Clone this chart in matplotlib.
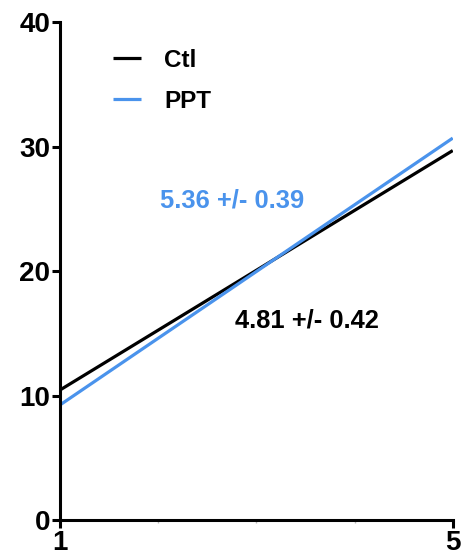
import matplotlib.pyplot as plt
import numpy as np
from matplotlib.ticker import FixedLocator

# fitted lines: intercept at x=1 and slope
x_range = [1, 5]
groups = ['Ctl', 'PPT']
start_vals = [10.45, 9.25]
slopes = [4.81, 5.36]
slope_errs = [0.42, 0.39]
colors = ['black', '#4a93ec']

plt.rcParams['font.family'] = ['Liberation Sans', 'DejaVu Sans']
plt.rcParams['font.weight'] = 'bold'

fig = plt.figure(figsize=(4.62, 5.56), dpi=100)
ax = fig.add_axes([0.13, 0.0647, 0.85, 0.8953])

xs = np.array(x_range, dtype=float)
for name, y0, k, c in zip(groups, start_vals, slopes, colors):
    ys = y0 + k * (xs - x_range[0])
    ax.plot(xs, ys, color=c, lw=2.3, label=name, solid_capstyle='butt')

# slope +/- error labels
ax.text(2.02, 25.7, '%.2f +/- %.2f' % (slopes[1], slope_errs[1]), color=colors[1],
        fontsize=18.4, fontweight='bold', ha='left', va='center')
ax.text(2.78, 16.05, '%.2f +/- %.2f' % (slopes[0], slope_errs[0]), color=colors[0],
        fontsize=18.4, fontweight='bold', ha='left', va='center')

ax.set_xlim(1, 5)
ax.set_ylim(0, 40)
ax.set_xticks([1, 5])
ax.xaxis.set_minor_locator(FixedLocator([2, 3, 4]))
ax.set_yticks([0, 10, 20, 30, 40])

for side in ['top', 'right']:
    ax.spines[side].set_visible(False)
for side in ['left', 'bottom']:
    ax.spines[side].set_linewidth(2.2)

ax.tick_params(axis='both', which='major', length=6, width=2.2, labelsize=20, pad=1)
ax.tick_params(axis='x', which='minor', length=2, width=1, color='#bbbbbb')
for lbl in ax.get_xticklabels() + ax.get_yticklabels():
    lbl.set_fontweight('bold')

leg = ax.legend(loc='upper left', bbox_to_anchor=(0.135, 0.947), frameon=False,
                fontsize=17.5, handlelength=1.15, handletextpad=0.95,
                labelspacing=0.74, borderpad=0, borderaxespad=0)
for t in leg.get_texts():
    t.set_fontweight('bold')

fig.savefig('out.png', dpi=100)
